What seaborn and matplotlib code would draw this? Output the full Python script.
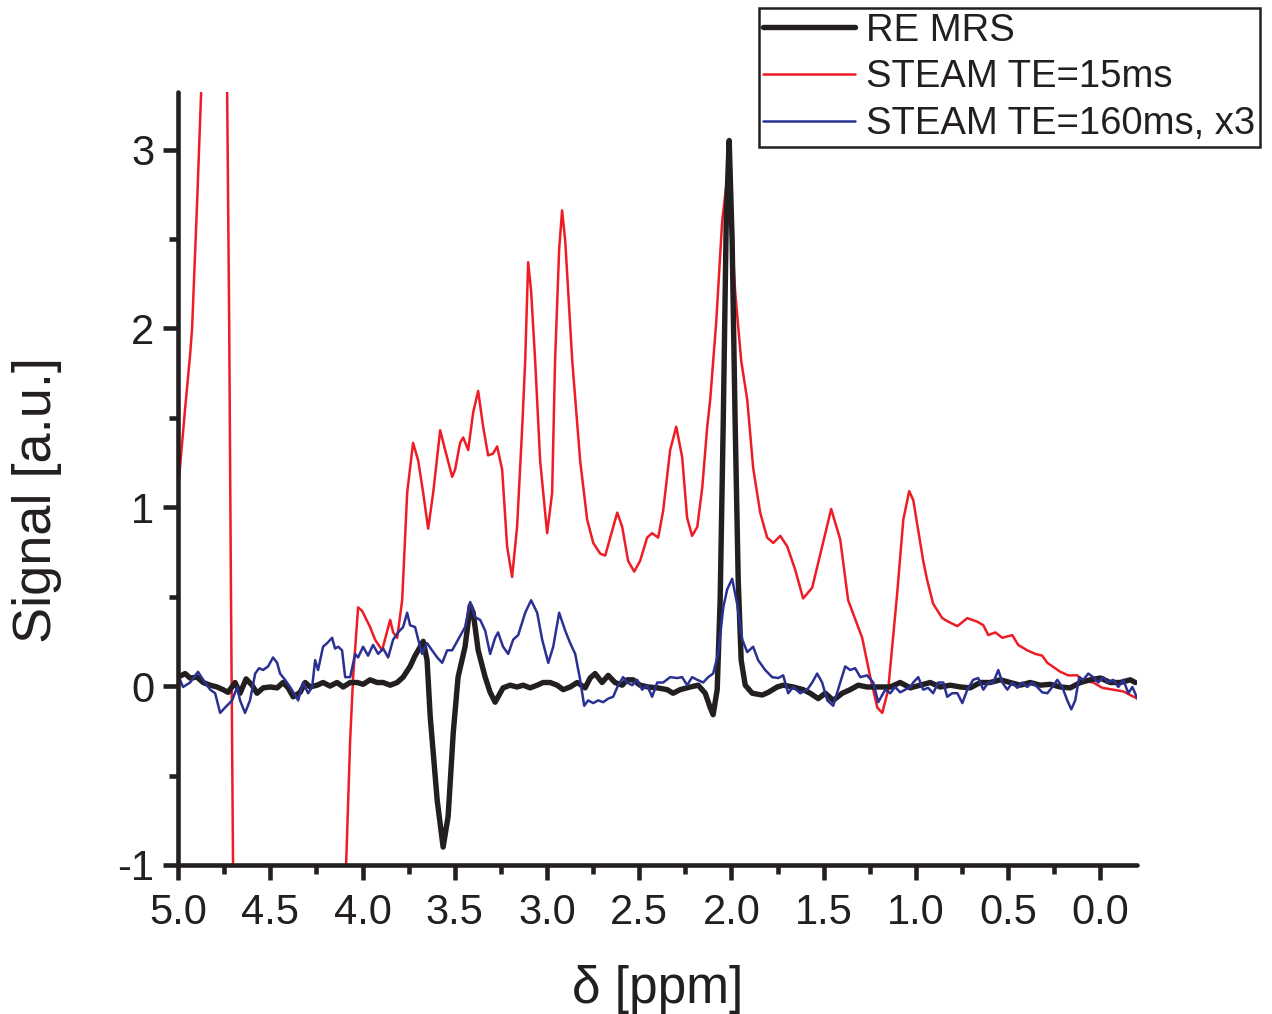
import numpy as np
import pandas as pd
import matplotlib
matplotlib.use("Agg")
import matplotlib.pyplot as plt
import seaborn as sns
from matplotlib.ticker import MultipleLocator

# ---------------- data (ppm, signal) ----------------
red_ppm = [5.000, 4.962, 4.935, 4.924, 4.897, 4.875, 4.837, 4.805, 4.772, 4.734, 4.723, 4.713,
           4.702, 4.690, 4.400, 4.130, 4.089, 4.067, 4.051, 4.024, 4.002, 3.959, 3.932, 3.894,
           3.850, 3.834, 3.812, 3.785, 3.758, 3.726, 3.698, 3.671, 3.644, 3.617, 3.579, 3.552,
           3.514, 3.498, 3.471, 3.454, 3.427, 3.400, 3.373, 3.346, 3.319, 3.292, 3.270, 3.243,
           3.216, 3.189, 3.162, 3.134, 3.118, 3.102, 3.086, 3.064, 3.037, 2.999, 2.972, 2.956,
           2.934, 2.918, 2.901, 2.863, 2.820, 2.782, 2.749, 2.711, 2.684, 2.657, 2.619, 2.592,
           2.560, 2.527, 2.495, 2.457, 2.430, 2.397, 2.370, 2.332, 2.299, 2.267, 2.240, 2.213,
           2.185, 2.158, 2.131, 2.115, 2.082, 2.050, 2.023, 2.001, 1.980, 1.947, 1.914, 1.882,
           1.844, 1.806, 1.773, 1.735, 1.697, 1.654, 1.611, 1.562, 1.508, 1.459, 1.410, 1.367,
           1.291, 1.247, 1.209, 1.182, 1.150, 1.101, 1.068, 1.036, 1.014, 0.987, 0.960, 0.938,
           0.906, 0.857, 0.824, 0.775, 0.721, 0.667, 0.634, 0.607, 0.569, 0.531, 0.477, 0.445,
           0.396, 0.353, 0.315, 0.287, 0.217, 0.174, 0.125, 0.092, 0.038, -0.011, -0.070, -0.125,
           -0.163, -0.201]
red_sig = [1.10, 1.55, 1.85, 2.00, 2.70, 3.32, 5.00, 6.50, 5.00, 3.32, 2.04, 0.48,
           -1.00, -2.00, -5.00, -2.00, -1.00, -0.30, 0.05, 0.44, 0.42, 0.33, 0.26, 0.20,
           0.37, 0.30, 0.27, 0.48, 1.08, 1.36, 1.26, 1.08, 0.88, 1.08, 1.43, 1.32,
           1.17, 1.21, 1.36, 1.39, 1.32, 1.53, 1.65, 1.45, 1.29, 1.30, 1.34, 1.21,
           0.78, 0.61, 0.89, 1.45, 1.82, 2.37, 2.21, 1.82, 1.26, 0.855, 1.08, 1.82,
           2.44, 2.66, 2.49, 1.82, 1.26, 0.93, 0.80, 0.74, 0.73, 0.83, 0.97, 0.89,
           0.70, 0.64, 0.70, 0.83, 0.855, 0.83, 0.98, 1.32, 1.45, 1.28, 0.94, 0.84,
           0.89, 1.11, 1.45, 1.60, 2.04, 2.60, 2.84, 2.60, 2.21, 1.82, 1.60, 1.22,
           0.97, 0.83, 0.80, 0.84, 0.78, 0.65, 0.49, 0.55, 0.78, 0.99, 0.82, 0.48,
           0.27, 0.05, -0.12, -0.15, -0.02, 0.52, 0.93, 1.09, 1.04, 0.87, 0.70, 0.59,
           0.46, 0.38, 0.36, 0.335, 0.38, 0.36, 0.34, 0.285, 0.30, 0.27, 0.285, 0.23,
           0.20, 0.18, 0.17, 0.13, 0.08, 0.06, 0.06, 0.03, 0.02, -0.01, -0.02, -0.03,
           -0.05, -0.07]

black_ppm = [5.000, 4.962, 4.935, 4.897, 4.864, 4.826, 4.789, 4.756, 4.729, 4.691, 4.664, 4.631,
             4.599, 4.572, 4.539, 4.501, 4.463, 4.431, 4.403, 4.376, 4.338, 4.311, 4.284, 4.246,
             4.214, 4.176, 4.138, 4.105, 4.067, 4.029, 3.997, 3.959, 3.921, 3.888, 3.850, 3.812,
             3.780, 3.742, 3.715, 3.698, 3.671, 3.650, 3.633, 3.595, 3.563, 3.536, 3.508, 3.482,
             3.444, 3.416, 3.400, 3.373, 3.335, 3.308, 3.281, 3.238, 3.200, 3.162, 3.129, 3.091,
             3.053, 3.021, 2.983, 2.945, 2.912, 2.874, 2.836, 2.793, 2.766, 2.739, 2.701, 2.668,
             2.631, 2.592, 2.565, 2.533, 2.495, 2.451, 2.402, 2.348, 2.316, 2.278, 2.223, 2.180,
             2.142, 2.115, 2.099, 2.077, 2.061, 2.044, 2.028, 2.012, 1.996, 1.980, 1.963, 1.947,
             1.925, 1.887, 1.833, 1.800, 1.752, 1.719, 1.665, 1.611, 1.573, 1.529, 1.491, 1.448,
             1.399, 1.356, 1.312, 1.264, 1.231, 1.177, 1.139, 1.085, 1.030, 0.976, 0.922, 0.868,
             0.813, 0.759, 0.705, 0.651, 0.597, 0.542, 0.488, 0.434, 0.380, 0.325, 0.271, 0.217,
             0.163, 0.108, 0.054, 0.000, -0.054, -0.108, -0.163, -0.190]
black_sig = [0.05, 0.07, 0.045, 0.05, 0.02, 0.005, -0.005, -0.02, -0.035, 0.02, -0.04, 0.04,
             0.005, -0.04, -0.01, -0.005, -0.01, 0.02, -0.01, -0.06, -0.035, 0.02, -0.005, 0.005,
             0.02, 0.00, 0.02, -0.005, 0.02, 0.02, 0.01, 0.035, 0.02, 0.02, 0.005, 0.02,
             0.05, 0.11, 0.17, 0.20, 0.25, 0.145, -0.17, -0.64, -0.90, -0.73, -0.26, 0.05,
             0.22, 0.45, 0.41, 0.20, 0.05, -0.035, -0.09, -0.01, 0.005, -0.005, 0.005, -0.01,
             0.005, 0.02, 0.02, 0.005, -0.02, -0.005, 0.02, -0.01, 0.045, 0.07, 0.02, 0.06,
             0.02, 0.005, 0.035, 0.035, 0.005, -0.005, -0.01, -0.02, -0.04, -0.02, -0.005, 0.005,
             -0.04, -0.12, -0.16, -0.02, 0.48, 1.49, 2.60, 3.05, 2.49, 1.49, 0.59, 0.145,
             0.005, -0.04, -0.05, -0.035, -0.005, 0.005, -0.005, -0.02, -0.04, -0.07, -0.04, -0.08,
             -0.04, -0.02, 0.005, -0.005, -0.005, -0.005, -0.005, 0.02, -0.01, 0.005, 0.02, -0.005,
             0.005, -0.005, -0.01, 0.02, 0.02, 0.035, 0.02, 0.005, 0.02, 0.005, 0.01, -0.005,
             -0.01, 0.02, 0.035, 0.045, 0.02, 0.02, 0.035, 0.02]

blue_ppm = [5.000, 4.973, 4.935, 4.892, 4.864, 4.826, 4.799, 4.772, 4.745, 4.707, 4.680, 4.664,
            4.637, 4.610, 4.582, 4.561, 4.539, 4.512, 4.485, 4.463, 4.447, 4.420, 4.393, 4.366,
            4.349, 4.322, 4.295, 4.273, 4.257, 4.241, 4.214, 4.192, 4.165, 4.149, 4.132, 4.111,
            4.094, 4.067, 4.040, 4.024, 3.997, 3.970, 3.943, 3.915, 3.888, 3.861, 3.834, 3.807,
            3.780, 3.758, 3.742, 3.715, 3.698, 3.677, 3.650, 3.623, 3.595, 3.568, 3.541, 3.514,
            3.482, 3.444, 3.416, 3.389, 3.362, 3.335, 3.308, 3.281, 3.265, 3.238, 3.210, 3.183,
            3.156, 3.118, 3.086, 3.053, 3.026, 2.993, 2.966, 2.934, 2.901, 2.874, 2.847, 2.820,
            2.798, 2.777, 2.749, 2.722, 2.695, 2.668, 2.641, 2.614, 2.587, 2.565, 2.538, 2.511,
            2.484, 2.457, 2.430, 2.402, 2.370, 2.332, 2.294, 2.267, 2.240, 2.213, 2.185, 2.153,
            2.126, 2.099, 2.072, 2.044, 2.023, 1.996, 1.969, 1.941, 1.914, 1.882, 1.855, 1.817,
            1.779, 1.746, 1.719, 1.692, 1.665, 1.627, 1.589, 1.562, 1.535, 1.508, 1.480, 1.448,
            1.410, 1.383, 1.356, 1.329, 1.301, 1.264, 1.231, 1.204, 1.166, 1.139, 1.112, 1.085,
            1.057, 1.030, 1.014, 0.987, 0.960, 0.933, 0.906, 0.879, 0.851, 0.830, 0.803, 0.775,
            0.748, 0.721, 0.689, 0.662, 0.634, 0.607, 0.580, 0.553, 0.531, 0.504, 0.477, 0.450,
            0.423, 0.396, 0.369, 0.342, 0.315, 0.287, 0.260, 0.233, 0.206, 0.179, 0.157, 0.136,
            0.114, 0.092, 0.065, 0.038, 0.011, -0.016, -0.043, -0.070, -0.098, -0.125, -0.152, -0.174,
            -0.201]
blue_sig = [0.06, -0.005, 0.02, 0.08, 0.035, -0.02, -0.04, -0.15, -0.12, -0.08, -0.005, -0.08,
            -0.15, -0.08, 0.07, 0.10, 0.09, 0.11, 0.16, 0.13, 0.07, 0.035, -0.005, -0.05,
            -0.08, 0.02, -0.04, -0.005, 0.145, 0.09, 0.22, 0.24, 0.27, 0.21, 0.22, 0.20,
            0.05, 0.05, 0.18, 0.16, 0.22, 0.17, 0.23, 0.18, 0.21, 0.16, 0.26, 0.30,
            0.33, 0.41, 0.34, 0.33, 0.26, 0.18, 0.24, 0.20, 0.16, 0.13, 0.20, 0.20,
            0.26, 0.33, 0.47, 0.385, 0.37, 0.31, 0.18, 0.27, 0.30, 0.22, 0.18, 0.26,
            0.285, 0.41, 0.48, 0.41, 0.26, 0.13, 0.22, 0.41, 0.31, 0.24, 0.18, 0.035,
            -0.11, -0.08, -0.095, -0.08, -0.09, -0.07, -0.06, 0.005, 0.05, 0.02, 0.005, 0.035,
            -0.02, 0.005, -0.06, 0.02, 0.02, 0.05, 0.045, 0.05, 0.005, 0.05, 0.035, 0.02,
            0.05, 0.07, 0.18, 0.44, 0.54, 0.60, 0.46, 0.26, 0.19, 0.22, 0.145, 0.09,
            0.05, 0.045, 0.06, -0.04, -0.005, -0.04, -0.02, 0.02, 0.07, 0.02, -0.08, -0.11,
            0.02, 0.11, 0.09, 0.10, 0.05, 0.06, 0.02, -0.09, -0.02, -0.04, -0.005, -0.035,
            -0.02, -0.005, 0.02, 0.05, -0.02, -0.01, -0.04, 0.02, 0.02, -0.06, -0.04, -0.04,
            -0.095, -0.02, 0.035, 0.045, -0.02, 0.02, 0.02, 0.09, 0.02, -0.02, 0.02, -0.01,
            0.02, -0.005, 0.02, -0.005, -0.035, -0.04, -0.005, 0.035, -0.005, -0.08, -0.13, -0.08,
            0.05, 0.035, 0.07, 0.05, 0.02, 0.05, 0.02, 0.035, -0.005, 0.035, -0.04, -0.005,
            -0.07]

labels = ["RE MRS", "STEAM TE=15ms", "STEAM TE=160ms, x3"]
x_ticks = [5.0, 4.5, 4.0, 3.5, 3.0, 2.5, 2.0, 1.5, 1.0, 0.5, 0.0]
x_ticklabels = ["5.0", "4.5", "4.0", "3.5", "3.0", "2.5", "2.0", "1.5", "1.0", "0.5", "0.0"]
y_ticks = [-1, 0, 1, 2, 3]
y_ticklabels = ["-1", "0", "1", "2", "3"]

# ---------------- style ----------------
sns.set_style("ticks")
plt.rcParams["font.family"] = ["Liberation Sans", "DejaVu Sans"]

fig = plt.figure(figsize=(12.72, 10.14), dpi=100)
ax = fig.add_axes([0.140, 0.147, 0.754, 0.762])

c_black = "#231f20"
c_red = "#ee1c25"
c_blue = "#2b3192"

df_red = pd.DataFrame({"ppm": red_ppm, "signal": red_sig})
df_black = pd.DataFrame({"ppm": black_ppm, "signal": black_sig})
df_blue = pd.DataFrame({"ppm": blue_ppm, "signal": blue_sig})

sns.lineplot(data=df_red, x="ppm", y="signal", ax=ax, color=c_red, lw=1.8,
             estimator=None, sort=False, label=labels[1])
sns.lineplot(data=df_black, x="ppm", y="signal", ax=ax, color=c_black, lw=3.9,
             estimator=None, sort=False, label=labels[0])
sns.lineplot(data=df_blue, x="ppm", y="signal", ax=ax, color=c_blue, lw=1.8,
             estimator=None, sort=False, label=labels[2])

ax.set_xlim(5.0, -0.2)
ax.set_ylim(-1.0, 3.32)

ax.set_xticks(x_ticks)
ax.set_xticklabels(x_ticklabels)
ax.set_yticks(y_ticks)
ax.set_yticklabels(y_ticklabels)
ax.xaxis.set_minor_locator(MultipleLocator(0.25))
ax.yaxis.set_minor_locator(MultipleLocator(0.5))

sns.despine(ax=ax, top=True, right=True)
for s in ["left", "bottom"]:
    ax.spines[s].set_linewidth(3.3)
    ax.spines[s].set_color(c_black)
    ax.spines[s].set_capstyle("round")

ax.tick_params(axis="both", which="major", direction="out", length=11, width=3.3,
               color=c_black, labelsize=30, labelcolor=c_black)
ax.tick_params(axis="x", which="major", pad=9)
ax.tick_params(axis="y", which="major", pad=6)
ax.tick_params(axis="both", which="minor", direction="out", length=6.5, width=3.3,
               color=c_black)

ax.set_xlabel("δ [ppm]", fontsize=37, color=c_black, labelpad=23)
ax.set_ylabel("Signal [a.u.]", fontsize=39, color=c_black)
ax.yaxis.set_label_coords(-0.121, 0.472)

handles, labs = ax.get_legend_handles_labels()
order = [labs.index(l) for l in labels]
leg = ax.legend([handles[i] for i in order], [labs[i] for i in order],
                loc="upper right", bbox_to_anchor=(0.9906, 0.992),
                bbox_transform=fig.transFigure, borderaxespad=0,
                fontsize=27.5, frameon=True, fancybox=False, framealpha=1,
                edgecolor=c_black, handlelength=2.4, handletextpad=0.3,
                borderpad=0.12, labelspacing=0.28)
leg.get_frame().set_linewidth(1.8)
for t in leg.get_texts():
    t.set_color(c_black)

fig.savefig("out.png", dpi=100)
